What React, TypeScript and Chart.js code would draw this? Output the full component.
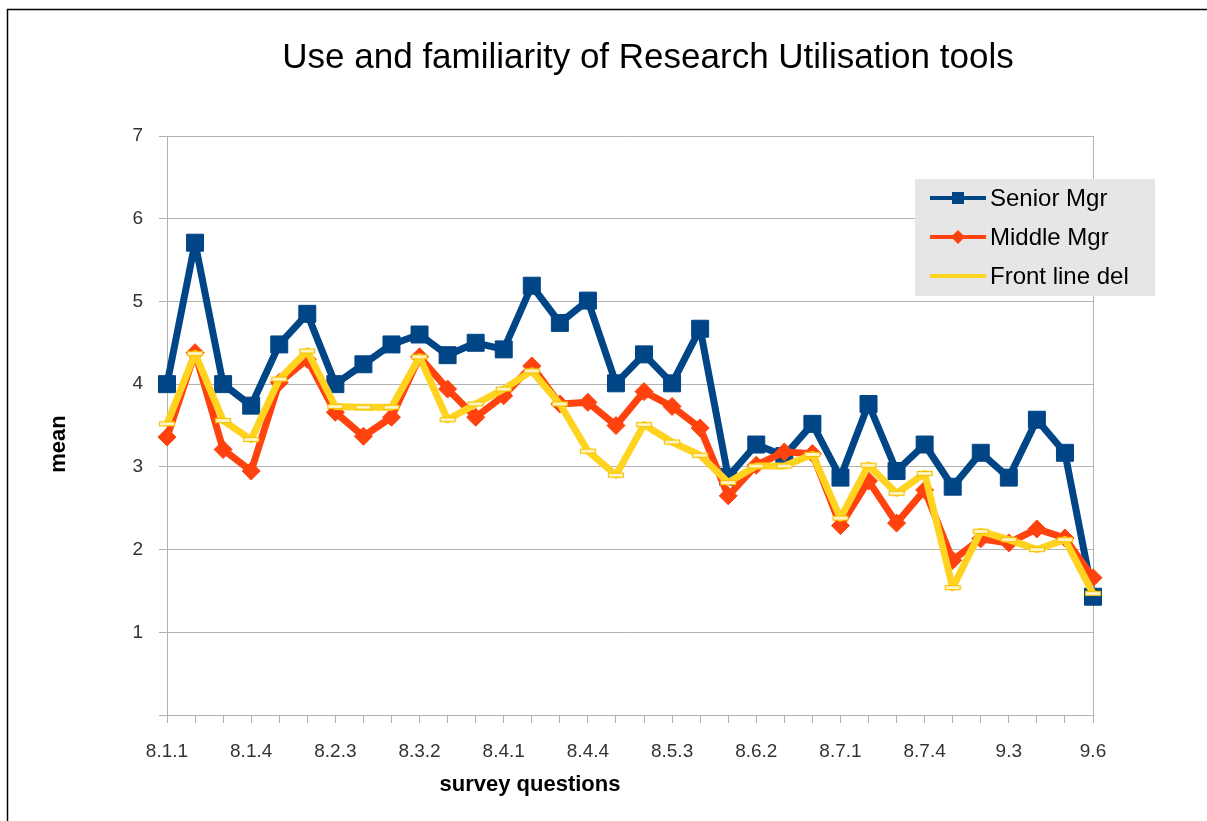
import React, { useEffect, useRef } from "react";
import { Chart, registerables } from "chart.js";

Chart.register(...registerables);

// ---------- data ----------
const categories = [
  "8.1.1", "8.1.2", "8.1.3", "8.1.4", "8.2.1", "8.2.2", "8.2.3", "8.2.4",
  "8.3.1", "8.3.2", "8.3.3", "8.3.4", "8.4.1", "8.4.2", "8.4.3", "8.4.4",
  "8.5.1", "8.5.2", "8.5.3", "8.5.4", "8.6.1", "8.6.2", "8.6.3", "8.6.4",
  "8.7.1", "8.7.2", "8.7.3", "8.7.4", "9.1", "9.2", "9.3", "9.4", "9.5", "9.6",
];

const seniorMgr = [
  4.0, 5.71, 4.0, 3.74, 4.48, 4.85, 4.0, 4.24, 4.48, 4.6, 4.35, 4.5,
  4.42, 5.19, 4.74, 5.01, 4.01, 4.36, 4.01, 4.67, 2.88, 3.27, 3.13, 3.52,
  2.87, 3.76, 2.95, 3.27, 2.76, 3.17, 2.87, 3.57, 3.17, 1.43,
];

const middleMgr = [
  3.36, 4.38, 3.21, 2.95, 4.02, 4.3, 3.66, 3.37, 3.6, 4.33, 3.94, 3.6,
  3.86, 4.22, 3.76, 3.78, 3.5, 3.91, 3.73, 3.47, 2.65, 3.02, 3.18, 3.16,
  2.29, 2.83, 2.32, 2.72, 1.87, 2.13, 2.08, 2.25, 2.14, 1.66,
];

const frontLineDel = [
  3.52, 4.37, 3.56, 3.33, 4.06, 4.4, 3.73, 3.72, 3.72, 4.33, 3.57, 3.76,
  3.94, 4.16, 3.76, 3.19, 2.9, 3.51, 3.3, 3.14, 2.81, 3.01, 3.01, 3.15,
  2.38, 3.02, 2.68, 2.92, 1.54, 2.22, 2.12, 2.0, 2.12, 1.47,
];

const seriesNames = ["Senior Mgr", "Middle Mgr", "Front line del"];
const seriesColors = ["#004586", "#ff420e", "#ffd320"];

const chartTitle = "Use and familiarity of Research Utilisation tools";
const xAxisTitle = "survey questions";
const yAxisTitle = "mean";

const FONT = "'Liberation Sans', Arial, Helvetica, sans-serif";

function makeYellowMarker(): HTMLCanvasElement {
  const c = document.createElement("canvas");
  c.width = 18;
  c.height = 7;
  const ctx = c.getContext("2d")!;
  ctx.fillStyle = "#fff6cf";
  ctx.fillRect(1, 1, 16, 5);
  ctx.strokeStyle = "#f5c400";
  ctx.lineWidth = 1.2;
  ctx.strokeRect(1.5, 1.5, 15, 4);
  return c;
}

const decorPlugin = {
  id: "decor",
  beforeDraw(chart: any) {
    const ctx = chart.ctx;
    ctx.save();
    ctx.fillStyle = "#ffffff";
    ctx.fillRect(0, 0, chart.width, chart.height);
    // outer frame (left + top visible)
    ctx.strokeStyle = "#000000";
    ctx.lineWidth = 1.5;
    ctx.beginPath();
    ctx.moveTo(7.5, chart.height + 5);
    ctx.lineTo(7.5, 9.5);
    ctx.lineTo(chart.width + 5, 9.5);
    ctx.stroke();
    ctx.restore();
  },
  beforeDatasetsDraw(chart: any) {
    const ctx = chart.ctx;
    const a = chart.chartArea;
    ctx.save();
    ctx.strokeStyle = "#b3b3b3";
    ctx.lineWidth = 1;
    ctx.beginPath();
    ctx.moveTo(Math.round(a.right) + 0.5, a.top);
    ctx.lineTo(Math.round(a.right) + 0.5, a.bottom);
    ctx.stroke();
    ctx.restore();
  },
  afterDraw(chart: any) {
    const ctx = chart.ctx;
    const a = chart.chartArea;
    ctx.save();
    // title
    ctx.fillStyle = "#000000";
    ctx.font = `35px ${FONT}`;
    ctx.textAlign = "center";
    ctx.textBaseline = "alphabetic";
    ctx.fillText(chartTitle, 648, 68);
    // x axis title
    ctx.font = `bold 22px ${FONT}`;
    ctx.fillText(xAxisTitle, 530, 791);
    // y axis title
    ctx.save();
    ctx.translate(65, 444);
    ctx.rotate(-Math.PI / 2);
    ctx.fillText(yAxisTitle, 0, 0);
    ctx.restore();

    // legend
    const lx = 915, ly = 179, lw = 240, lh = 117;
    ctx.fillStyle = "#e6e6e6";
    ctx.fillRect(lx, ly, lw, lh);
    const rows = [198, 237, 276];
    ctx.font = `24px ${FONT}`;
    ctx.textAlign = "left";
    ctx.textBaseline = "middle";
    rows.forEach((ry, i) => {
      const col = seriesColors[i];
      ctx.strokeStyle = col;
      ctx.lineWidth = 4;
      ctx.beginPath();
      ctx.moveTo(930, ry);
      ctx.lineTo(986, ry);
      ctx.stroke();
      ctx.fillStyle = col;
      if (i === 0) {
        ctx.fillRect(952, ry - 6, 12, 12);
      } else if (i === 1) {
        ctx.beginPath();
        ctx.moveTo(958, ry - 7);
        ctx.lineTo(965, ry);
        ctx.lineTo(958, ry + 7);
        ctx.lineTo(951, ry);
        ctx.closePath();
        ctx.fill();
      }
      ctx.fillStyle = "#000000";
      ctx.fillText(seriesNames[i], 990, ry + 1);
    });
    ctx.restore();
  },
};

export default function App() {
  const canvasRef = useRef<HTMLCanvasElement | null>(null);

  useEffect(() => {
    if (!canvasRef.current) return;
    Chart.defaults.font.family = FONT;
    const yellowMarker = makeYellowMarker();

    const chart = new Chart(canvasRef.current, {
      type: "line",
      data: {
        labels: categories,
        datasets: [
          {
            label: seriesNames[0],
            data: seniorMgr,
            borderColor: seriesColors[0],
            backgroundColor: seriesColors[0],
            borderWidth: 7,
            pointStyle: "rect",
            pointRadius: 12,
            pointBorderWidth: 1,
            pointBackgroundColor: seriesColors[0],
            pointBorderColor: seriesColors[0],
            borderJoinStyle: "round",
            tension: 0,
            order: 3,
            clip: false,
          },
          {
            label: seriesNames[1],
            data: middleMgr,
            borderColor: seriesColors[1],
            backgroundColor: seriesColors[1],
            borderWidth: 7,
            pointStyle: "rectRot",
            pointRadius: 9,
            pointBorderWidth: 1,
            pointBackgroundColor: seriesColors[1],
            pointBorderColor: seriesColors[1],
            borderJoinStyle: "round",
            tension: 0,
            order: 2,
            clip: false,
          },
          {
            label: seriesNames[2],
            data: frontLineDel,
            borderColor: seriesColors[2],
            backgroundColor: seriesColors[2],
            borderWidth: 7,
            pointStyle: yellowMarker as any,
            pointRadius: 8,
            borderJoinStyle: "round",
            tension: 0,
            order: 1,
            clip: false,
          },
        ],
      },
      options: {
        animation: false,
        responsive: false,
        devicePixelRatio: 1,
        layout: { padding: { top: 136, right: 114, left: 0, bottom: 0 } },
        plugins: {
          legend: { display: false },
          title: { display: false },
          tooltip: { enabled: false },
        },
        scales: {
          x: {
            type: "category",
            offset: false,
            grid: {
              drawOnChartArea: false,
              drawTicks: true,
              tickLength: 8,
              color: "#b3b3b3",
            },
            border: { color: "#b3b3b3" },
            ticks: {
              autoSkip: false,
              maxRotation: 0,
              minRotation: 0,
              padding: 17,
              color: "#333333",
              font: { size: 19 },
              callback: function (this: any, value: any, index: number) {
                return index % 3 === 0 ? this.getLabelForValue(value) : "";
              },
            },
            afterFit(scale: any) {
              scale.height = 106;
            },
          },
          y: {
            min: 0,
            max: 7,
            grid: { color: "#b3b3b3", tickLength: 8 },
            border: { color: "#b3b3b3" },
            ticks: {
              stepSize: 1,
              padding: 16,
              color: "#333333",
              font: { size: 19 },
              callback: (v: any) => (Number(v) === 0 ? "" : String(v)),
            },
            afterFit(scale: any) {
              scale.width = 167;
            },
          },
        },
      },
      plugins: [decorPlugin],
    });

    return () => chart.destroy();
  }, []);

  return (
    <div style={{ position: "absolute", left: 0, top: 0, width: 1207, height: 821 }}>
      <canvas ref={canvasRef} width={1207} height={821} style={{ display: "block" }} />
    </div>
  );
}
